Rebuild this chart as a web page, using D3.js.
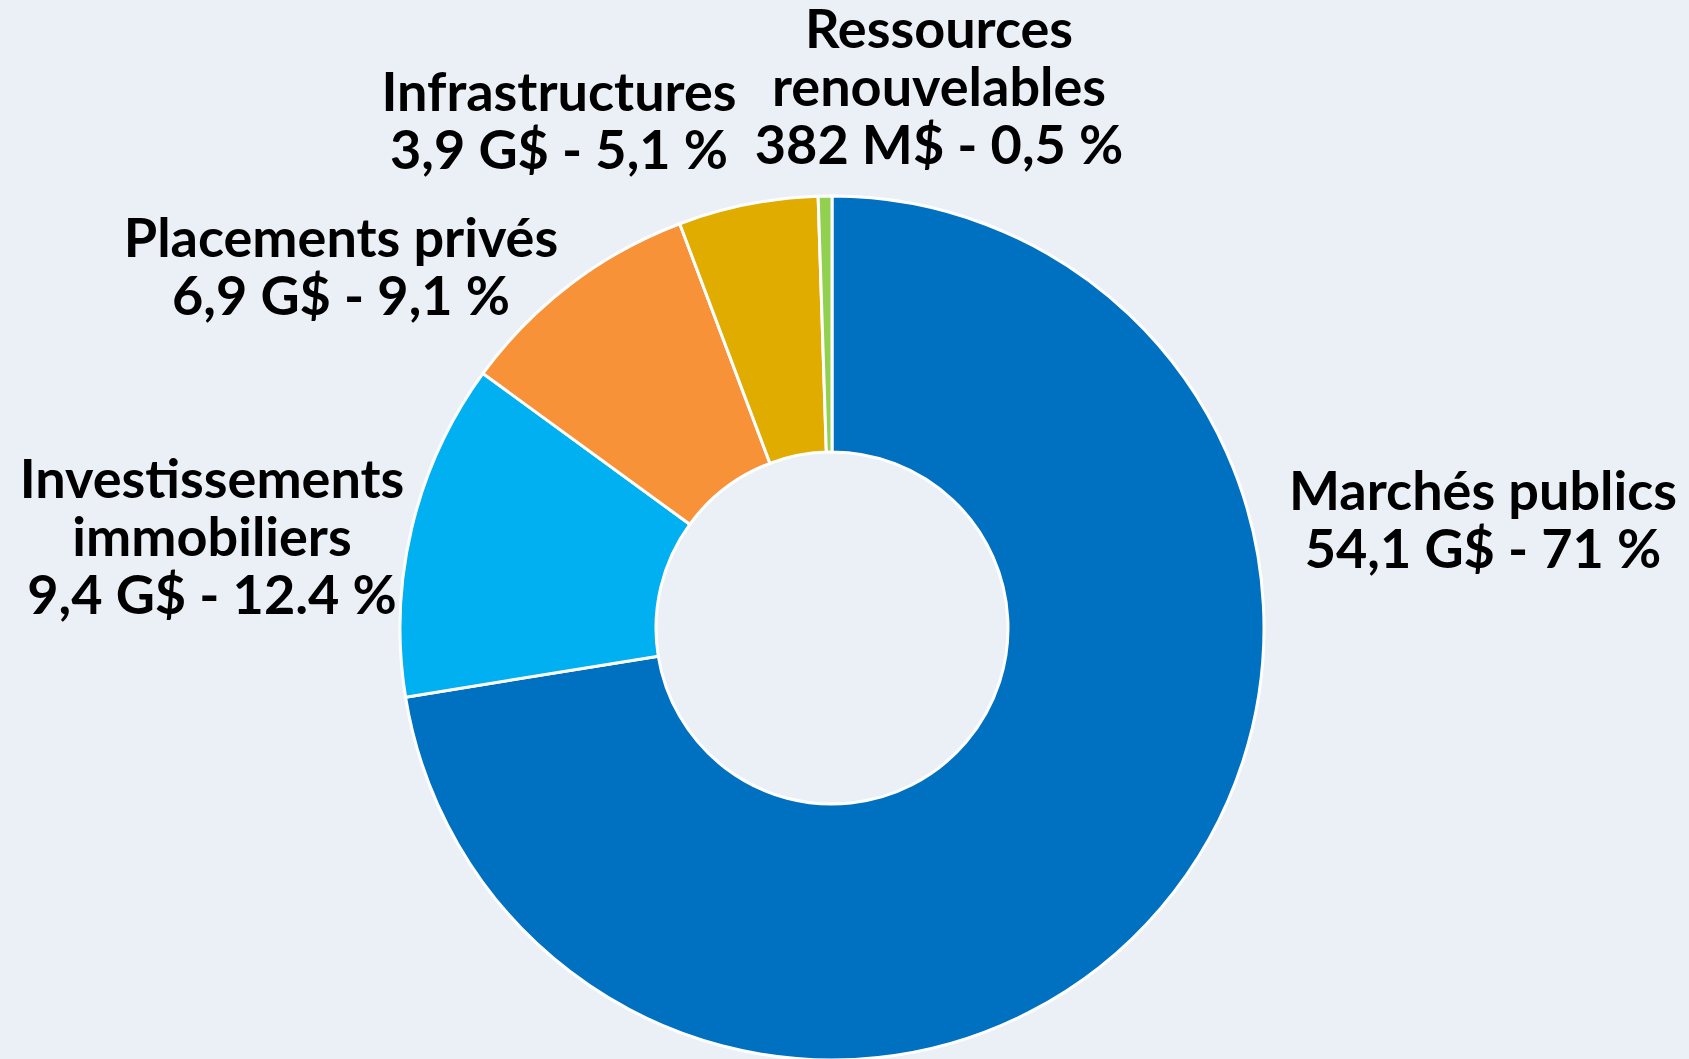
<!DOCTYPE html>
<html>
  <head>
    <meta charset="utf-8">
    <style>
      body {
        margin: 0;
        background: #ebf0f7;
        overflow: hidden;
      }

      .slice path {
        stroke: #ffffff;
        stroke-width: 3px;
      }

      .label {
        font-family: Lato, 'Open Sans', sans-serif;
        font-weight: 700;
        font-size: 54px;
        fill: #000000;
      }
    </style>
  </head>
  <body>
    <script src="https://d3js.org/d3.v7.min.js"></script>
    <script>
      // data
      var categories = ["Marchés publics", "Investissements immobiliers", "Placements privés", "Infrastructures", "Ressources renouvelables"];
      var values = [54.1, 9.4, 6.9, 3.9, 0.382];
      var valueLabels = ["54,1 G$ - 71 %", "9,4 G$ - 12.4 %", "6,9 G$ - 9,1 %", "3,9 G$ - 5,1 %", "382 M$ - 0,5 %"];
      var nameLines = [
        ["Marchés publics"],
        ["Investissements", "immobiliers"],
        ["Placements privés"],
        ["Infrastructures"],
        ["Ressources", "renouvelables"]
      ];
      var colors = ["#0070c0", "#00b0f0", "#f79239", "#e0ac00", "#92d050"];

      // layout
      var width = 1689;
      var height = 1059;
      var cx = 832, cy = 628;
      var outerR = 432, innerR = 176;
      var lineHeight = 58;
      // label block anchor (centre x, first baseline) relative to the donut centre
      var labelOffsets = [[651, -118], [-620, -130], [-491, -371], [-273, -517], [107, -580]];

      var svg = d3.select("body")
        .append("svg")
        .attr("width", width)
        .attr("height", height);

      var table = categories.map(function(c, i) {
        return { name: c, value: values[i], label: valueLabels[i], lines: nameLines[i], color: colors[i], off: labelOffsets[i] };
      });

      var pie = d3.pie()
        .sort(null)
        .value(function(d) { return d.value; });

      var arc = d3.arc()
        .innerRadius(innerR)
        .outerRadius(outerR);

      var g = svg.append("g")
        .attr("transform", "translate(" + cx + "," + cy + ")");

      g.append("g")
        .attr("class", "slice")
        .selectAll("path")
        .data(pie(table))
        .enter().append("path")
        .attr("d", arc)
        .attr("fill", function(d) { return d.data.color; });

      var label = g.append("g")
        .selectAll("text")
        .data(table)
        .enter().append("text")
        .attr("class", "label")
        .attr("text-anchor", "middle")
        .attr("transform", function(d) {
          return "translate(" + d.off[0] + "," + d.off[1] + ")";
        });

      label.each(function(d) {
        var t = d3.select(this);
        var lines = d.lines.concat([d.label]);
        lines.forEach(function(s, i) {
          t.append("tspan")
            .attr("x", 0)
            .attr("y", i * lineHeight)
            .text(s);
        });
      });
    </script>
  </body>
</html>
